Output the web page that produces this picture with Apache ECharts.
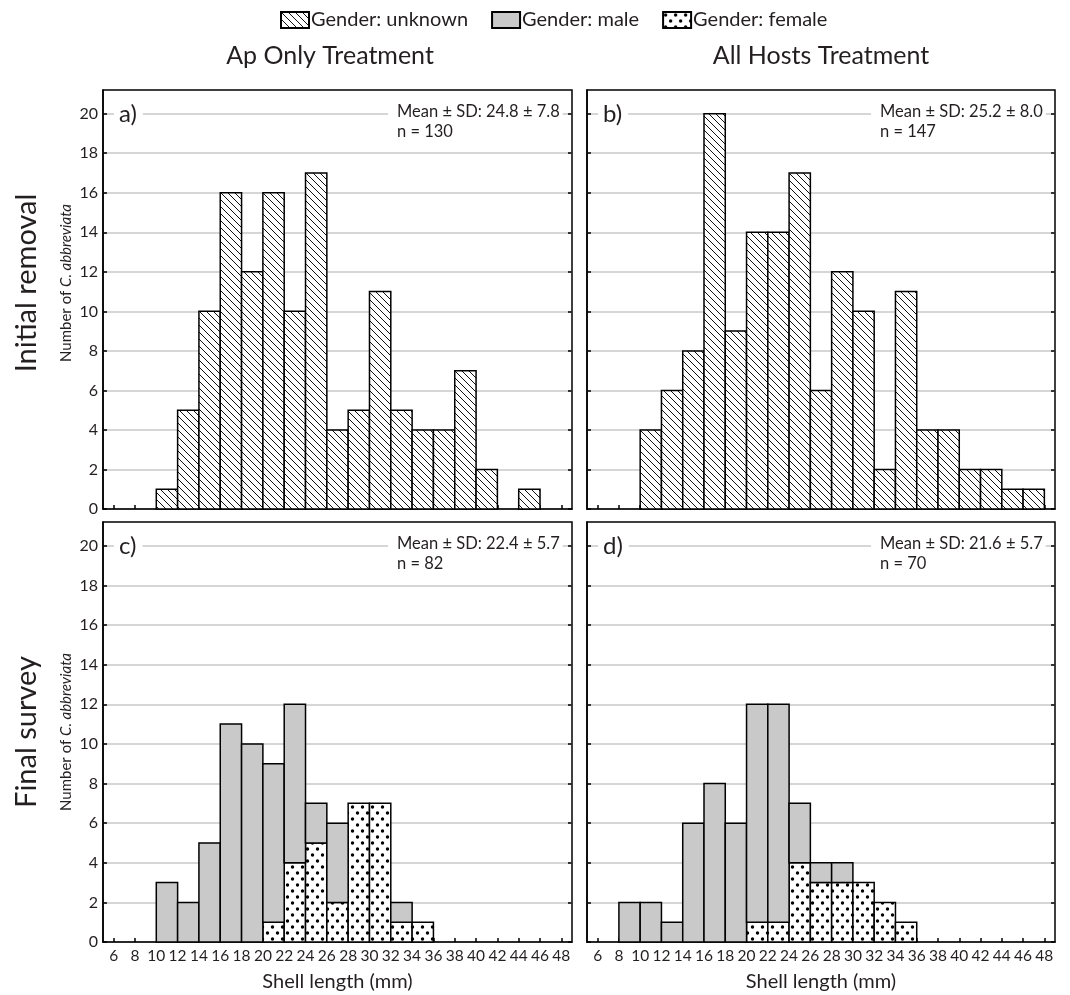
<!DOCTYPE html>
<html><head><meta charset="utf-8">
<script src="https://cdn.jsdelivr.net/npm/echarts@6/dist/echarts.min.js"></script>
<style>html,body{margin:0;padding:0;background:#fff}#chart{width:1070px;height:995px}</style>
</head><body><div id="chart"></div>
<script>
// ---- data ----
const binWidth = 2;
const binStarts = [8,10,12,14,16,18,20,22,24,26,28,30,32,34,36,38,40,42,44,46];
// Initial removal (gender unknown)
const unknownA = [0,1,5,10,16,12,16,10,17,4,5,11,5,4,4,7,2,0,1,0];
const unknownB = [0,4,6,8,20,9,14,14,17,6,12,10,2,11,4,4,2,2,1,1];
// Final survey
const maleC   = [0,3,2,5,11,10,8,8,2,4,0,0,1,0,0,0,0,0,0,0];
const femaleC = [0,0,0,0,0,0,1,4,5,2,7,7,1,1,0,0,0,0,0,0];
const maleD   = [2,2,1,6,8,6,11,11,3,1,1,0,0,0,0,0,0,0,0,0];
const femaleD = [0,0,0,0,0,0,1,1,4,3,3,3,2,1,0,0,0,0,0,0];
const xTicks = [6,8,10,12,14,16,18,20,22,24,26,28,30,32,34,36,38,40,42,44,46,48];
const yTicks = [0,2,4,6,8,10,12,14,16,18,20];
const panelLabels = ['a)','b)','c)','d)'];
const statsText = ['Mean \u00b1 SD: 24.8 \u00b1 7.8','Mean \u00b1 SD: 25.2 \u00b1 8.0','Mean \u00b1 SD: 22.4 \u00b1 5.7','Mean \u00b1 SD: 21.6 \u00b1 5.7'];
const nText = ['n = 130','n = 147','n = 82','n = 70'];
const colTitles = ['Ap Only Treatment','All Hosts Treatment'];
const rowTitles = ['Initial removal','Final survey'];

// ---- patterns ----
function hatch(){
  const s = 7, c = document.createElement('canvas'); c.width = s; c.height = s;
  const g = c.getContext('2d');
  g.fillStyle = '#fff'; g.fillRect(0,0,s,s);
  g.strokeStyle = '#111'; g.lineWidth = 1;
  g.beginPath();
  g.moveTo(0,0); g.lineTo(s,s);
  g.moveTo(-1,s-1); g.lineTo(1,s+1);
  g.moveTo(s-1,-1); g.lineTo(s+1,1);
  g.stroke();
  return {image: c, repeat: 'repeat'};
}
function dots(){
  const w = 10, h = 12, c = document.createElement('canvas'); c.width = w; c.height = h;
  const g = c.getContext('2d');
  g.fillStyle = '#fff'; g.fillRect(0,0,w,h);
  g.fillStyle = '#000';
  [[2.5,3],[7.5,9]].forEach(p => { g.beginPath(); g.arc(p[0],p[1],1.7,0,Math.PI*2); g.fill(); });
  return {image: c, repeat: 'repeat'};
}
const HATCH = hatch(), DOTS = dots(), GRAY = '#c9c9c9';
const FONT = 'Lato, "Noto Sans", sans-serif';
const TXT = '#231f20';

const grids = [
  {left:103, top:90,  width:469, height:419},
  {left:587, top:90,  width:468, height:419},
  {left:103, top:522, width:469, height:420},
  {left:587, top:522, width:468, height:420}
];

function renderBar(params, api){
  const x0 = api.value(0), v = api.value(1), base = api.value(2);
  if (!v) return null;
  const p0 = api.coord([x0, base]);
  const p1 = api.coord([x0 + binWidth, base + v]);
  return {type:'rect', shape:{x:p0[0], y:p1[1], width:p1[0]-p0[0], height:p0[1]-p1[1]},
    style: api.style()};
}
function mk(name, idx, vals, bases, fill){
  return {
    type:'custom', name: name, xAxisIndex: idx, yAxisIndex: idx*2,
    renderItem: renderBar,
    itemStyle: {color: fill, borderColor:'#000', borderWidth:1.5},
    encode: {x:0, y:1},
    data: binStarts.map((b,i)=>[b, vals[i], bases ? bases[i] : 0]),
    z: 3
  };
}

const xAxes = grids.map((g,i)=>({
  type:'value', gridIndex:i, min:5, max:49,
  axisLine:{show:true, lineStyle:{color:'#000', width:1.5}},
  axisTick:{show:true, inside:true, length:4, customValues:xTicks, lineStyle:{color:'#000', width:1.5}},
  axisLabel:{show:i>=2, customValues:xTicks, margin:6, fontSize:15.5, color:TXT, fontFamily:FONT},
  splitLine:{show:false},
  name: i>=2 ? 'Shell length (mm)' : '', nameLocation:'middle', nameGap:30,
  nameTextStyle:{fontSize:20, color:TXT, fontFamily:FONT}
}));
const yAxes = [];
grids.forEach((g,i)=>{
  yAxes.push({
    type:'value', gridIndex:i, min:0, max:21.2, position:'left',
    axisLine:{show:true, lineStyle:{color:'#000', width:1.5}},
    axisTick:{show:true, inside:true, length:4, customValues:yTicks, lineStyle:{color:'#000', width:1.5}},
    axisLabel:{show:i%2===0, customValues:yTicks, margin:5, fontSize:16, color:TXT, fontFamily:FONT},
    splitLine:{show:true, lineStyle:{color:'#c8c8c8', width:1.5}}
  });
  yAxes.push({
    type:'value', gridIndex:i, min:0, max:21.2, position:'right',
    axisLine:{show:false},
    axisTick:{show:true, inside:true, length:4, customValues:yTicks, lineStyle:{color:'#000', width:1.5}},
    axisLabel:{show:false},
    splitLine:{show:false}
  });
});

const graphics = [];
grids.forEach((g,i)=>{
  const right = g.left + g.width;
  graphics.push({type:'text', z:100, x: g.left + 11, y: g.top + 24,
    style:{text: panelLabels[i], font:'24px ' + FONT, fill:TXT, verticalAlign:'middle',
      backgroundColor:'#fff', padding:[0,6,0,5]}});
  graphics.push({type:'text', z:100, x: right - 184, y: g.top + 12,
    style:{text: statsText[i] + '\n' + nText[i], font:'16.5px ' + FONT, fill:TXT, verticalAlign:'top',
      lineHeight:20, backgroundColor:'#fff', padding:[0,3,0,9]}});
});

[330, 821].forEach((x,i)=>graphics.push({type:'text', z:100, x:x, y:56,
  style:{text: colTitles[i], font:'25px ' + FONT, fill:TXT, align:'center', verticalAlign:'middle'}}));
[283, 732].forEach((y,i)=>{
  graphics.push({type:'text', z:100, x:27, y:y, rotation:Math.PI/2,
    style:{text: rowTitles[i], font:'29px ' + FONT, fill:TXT, align:'center', verticalAlign:'middle'}});
  graphics.push({type:'text', z:100, x:66, y:y, rotation:Math.PI/2,
    style:{text:'Number of {i|C. abbreviata}', font:'15px ' + FONT, fill:TXT, align:'center', verticalAlign:'middle',
      rich:{i:{fontStyle:'italic', font:'italic 15px ' + FONT, fill:TXT}}}});
});

const option = {
  backgroundColor:'#fff',
  animation:false,
  textStyle:{fontFamily:FONT},
  legend:{
    data:['Gender: unknown','Gender: male','Gender: female'],
    top:10, left:280, padding:0, icon:'rect', itemWidth:28, itemHeight:16, itemGap:23,
    textStyle:{fontSize:20, color:TXT, fontFamily:FONT, padding:[0,0,0,-3]},
    selectedMode:false
  },
  grid: grids.map(g=>Object.assign({show:true, borderColor:'#000', borderWidth:1.5, backgroundColor:'#fff'}, g)),
  xAxis: xAxes,
  yAxis: yAxes,
  series: [
    mk('Gender: unknown', 0, unknownA, null, HATCH),
    mk('Gender: unknown', 1, unknownB, null, HATCH),
    mk('Gender: female', 2, femaleC, null, DOTS),
    mk('Gender: male', 2, maleC, femaleC, GRAY),
    mk('Gender: female', 3, femaleD, null, DOTS),
    mk('Gender: male', 3, maleD, femaleD, GRAY)
  ],
  graphic: graphics
};
const chart = echarts.init(document.getElementById('chart'), null, {renderer:'canvas'});
chart.setOption(option);
</script>
</body></html>
